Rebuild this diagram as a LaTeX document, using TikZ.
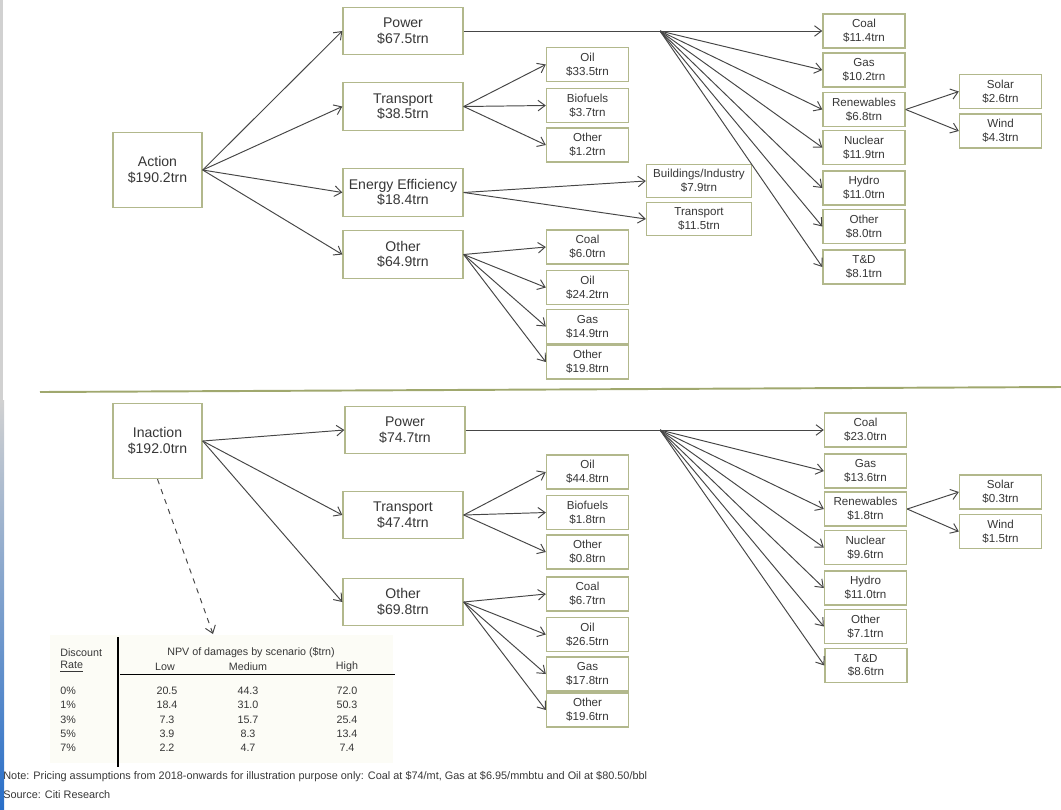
\documentclass[tikz,border=0pt]{standalone}
\usepackage{fontspec}
\setmainfont{Liberation Sans}
\usetikzlibrary{arrows.meta}
\definecolor{boxline}{RGB}{178,184,140}
\definecolor{txtgray}{RGB}{55,55,55}
\definecolor{arrgray}{RGB}{70,70,70}
\definecolor{sepgreen}{RGB}{160,168,110}
\definecolor{tabfill}{RGB}{252,252,246}
\definecolor{edgeblue}{RGB}{40,110,200}
\tikzset{
  catbox/.style={draw=boxline, line width=0.8pt, fill=white, text=txtgray, align=center, inner sep=0pt},
  bigbox/.style={catbox, minimum width=2.4cm, minimum height=0.95cm, font=\fontsize{8}{8.8}\selectfont},
  smallbox/.style={catbox, minimum width=1.64cm, minimum height=0.68cm, font=\fontsize{6.6}{7.8}\selectfont},
  widebox/.style={smallbox, minimum width=2.1cm, minimum height=0.66cm},
  rootbox/.style={catbox, minimum width=1.78cm, minimum height=1.5cm, font=\fontsize{8}{9.2}\selectfont},
  link/.style={draw=arrgray, line width=0.55pt, -{Straight Barb[length=4pt,width=6pt]}},
  tabtxt/.style={text=txtgray, inner sep=0pt, font=\fontsize{6.1}{7}\selectfont},
  foot/.style={text=txtgray, inner sep=0pt, anchor=west, font=\fontsize{6.2}{7.4}\selectfont},
}
\begin{document}
\begin{tikzpicture}[x=0.02cm, y=-0.02cm]
  \useasboundingbox (0,0) rectangle (1061,809);
  % page edge
  \fill[black!18] (0,0) rectangle (3,809);
  \shade[top color=black!18, bottom color=edgeblue] (0,400) rectangle (4,809);
  % action tree
  \node[rootbox] (action) at (157.5,170) {Action\\\$190.2trn};
  \node[bigbox] (power) at (403,31) {Power\\\$67.5trn};
  \node[bigbox] (transport) at (403,106.5) {Transport\\\$38.5trn};
  \node[bigbox] (eneff) at (403,192.5) {Energy Efficiency\\\$18.4trn};
  \node[bigbox] (other) at (403,254.5) {Other\\\$64.9trn};
  \node[smallbox] (oilT) at (587.5,64.5) {Oil\\\$33.5trn};
  \node[smallbox] (biofT) at (587.5,105.5) {Biofuels\\\$3.7trn};
  \node[smallbox] (othT) at (587.5,145) {Other\\\$1.2trn};
  \node[widebox] (bldE) at (699,181) {Buildings/Industry\\\$7.9trn};
  \node[widebox] (trE) at (699,219) {Transport\\\$11.5trn};
  \node[smallbox] (coalO) at (587.5,247) {Coal\\\$6.0trn};
  \node[smallbox] (oilO) at (587.5,287.5) {Oil\\\$24.2trn};
  \node[smallbox] (gasO) at (587.5,326.5) {Gas\\\$14.9trn};
  \node[smallbox] (othO) at (587.5,362) {Other\\\$19.8trn};
  \node[smallbox] (coalP) at (864,31) {Coal\\\$11.4trn};
  \node[smallbox] (gasP) at (864,70) {Gas\\\$10.2trn};
  \node[smallbox] (renP) at (864,109.5) {Renewables\\\$6.8trn};
  \node[smallbox] (nucP) at (864,147.5) {Nuclear\\\$11.9trn};
  \node[smallbox] (hydP) at (864,188) {Hydro\\\$11.0trn};
  \node[smallbox] (othP) at (864,226.5) {Other\\\$8.0trn};
  \node[smallbox] (tdP) at (864,267) {T\&D\\\$8.1trn};
  \node[smallbox] (solar) at (1000.5,91.5) {Solar\\\$2.6trn};
  \node[smallbox] (wind) at (1000.5,131) {Wind\\\$4.3trn};
  \coordinate (fanA) at (660,31);
  \foreach \t in {power,transport,eneff,other}
    \draw[link] (action.east) -- (\t.west);
  \foreach \t in {oilT,biofT,othT}
    \draw[link] (transport.east) -- (\t.west);
  \foreach \t in {bldE,trE}
    \draw[link] (eneff.east) -- (\t.west);
  \foreach \t in {coalO,oilO,gasO,othO}
    \draw[link] (other.east) -- (\t.west);
  \draw[link] (power.east) -- (coalP.west);
  \foreach \t in {gasP,renP,nucP,hydP,othP,tdP}
    \draw[link] (fanA) -- (\t.west);
  \foreach \t in {solar,wind}
    \draw[link] (renP.east) -- (\t.west);
  % divider
  \draw[sepgreen, line width=1.1pt] (40,392) -- (1061,387);
  % inaction tree
  \node[rootbox] (inaction) at (157.5,441) {Inaction\\\$192.0trn};
  \node[bigbox] (powerB) at (405,430) {Power\\\$74.7trn};
  \node[bigbox] (transB) at (403,515) {Transport\\\$47.4trn};
  \node[bigbox] (otherB) at (403,602) {Other\\\$69.8trn};
  \node[smallbox] (oilTB) at (587.5,472) {Oil\\\$44.8trn};
  \node[smallbox] (biofTB) at (587.5,512.5) {Biofuels\\\$1.8trn};
  \node[smallbox] (othTB) at (587.5,552) {Other\\\$0.8trn};
  \node[smallbox] (coalOB) at (587.5,594) {Coal\\\$6.7trn};
  \node[smallbox] (oilOB) at (587.5,634.5) {Oil\\\$26.5trn};
  \node[smallbox] (gasOB) at (587.5,674) {Gas\\\$17.8trn};
  \node[smallbox] (othOB) at (587.5,710) {Other\\\$19.6trn};
  \node[smallbox] (coalPB) at (865.5,430) {Coal\\\$23.0trn};
  \node[smallbox] (gasPB) at (865.5,471) {Gas\\\$13.6trn};
  \node[smallbox] (renPB) at (865.5,509) {Renewables\\\$1.8trn};
  \node[smallbox] (nucPB) at (865.5,547.5) {Nuclear\\\$9.6trn};
  \node[smallbox] (hydPB) at (865.5,588) {Hydro\\\$11.0trn};
  \node[smallbox] (othPB) at (865.5,626.5) {Other\\\$7.1trn};
  \node[smallbox] (tdPB) at (866,665.5) {T\&D\\\$8.6trn};
  \node[smallbox] (solarB) at (1000.5,492) {Solar\\\$0.3trn};
  \node[smallbox] (windB) at (1000.5,531.5) {Wind\\\$1.5trn};
  \coordinate (fanB) at (660,430);
  \foreach \t in {powerB,transB,otherB}
    \draw[link] (inaction.east) -- (\t.west);
  \foreach \t in {oilTB,biofTB,othTB}
    \draw[link] (transB.east) -- (\t.west);
  \foreach \t in {coalOB,oilOB,gasOB,othOB}
    \draw[link] (otherB.east) -- (\t.west);
  \draw[link] (powerB.east) -- (coalPB.west);
  \foreach \t in {gasPB,renPB,nucPB,hydPB,othPB,tdPB}
    \draw[link] (fanB) -- (\t.west);
  \foreach \t in {solarB,windB}
    \draw[link] (renPB.east) -- (\t.west);
  % NPV table
  \fill[tabfill] (50,635) rectangle (393,763);
  \coordinate (tabin) at (213,634);
  \draw[link, dashed] (inaction.south) -- (tabin);
  \draw[black, line width=0.9pt] (118,637) -- (118,767);
  \draw[black, line width=0.5pt] (120,674) -- (395,674);
  \node[tabtxt, anchor=west] (hdisc) at (60,653) {Discount};
  \node[tabtxt, anchor=west] (hrate) at (60,667) {\underline{Rate}};
  \node[tabtxt] (hnpv) at (251,653) {NPV of damages by scenario (\$trn)};
  \node[tabtxt] (hlow) at (165,667) {Low};
  \node[tabtxt] (hmed) at (248,667) {Medium};
  \node[tabtxt] (hhigh) at (347,667) {High};
  \foreach \r/\lo/\me/\hi [count=\i] in {0\%/20.5/44.3/72.0, 1\%/18.4/31.0/50.3, 3\%/7.3/15.7/25.4, 5\%/3.9/8.3/13.4, 7\%/2.2/4.7/7.4} {
    \pgfmathsetmacro\yy{676.75+14.25*\i}
    \node[tabtxt, anchor=west] (rate\i) at (60,\yy) {\r};
    \node[tabtxt] (low\i) at (167,\yy) {\lo};
    \node[tabtxt] (med\i) at (248,\yy) {\me};
    \node[tabtxt] (high\i) at (347,\yy) {\hi};
  }
  % footnotes
  \node[foot] (note) at (3,777) {Note: Pricing assumptions from 2018-onwards for illustration purpose only: Coal at \$74/mt, Gas at \$6.95/mmbtu and Oil at \$80.50/bbl};
  \node[foot] (source) at (3,795) {Source: Citi Research};
\end{tikzpicture}
\end{document}
